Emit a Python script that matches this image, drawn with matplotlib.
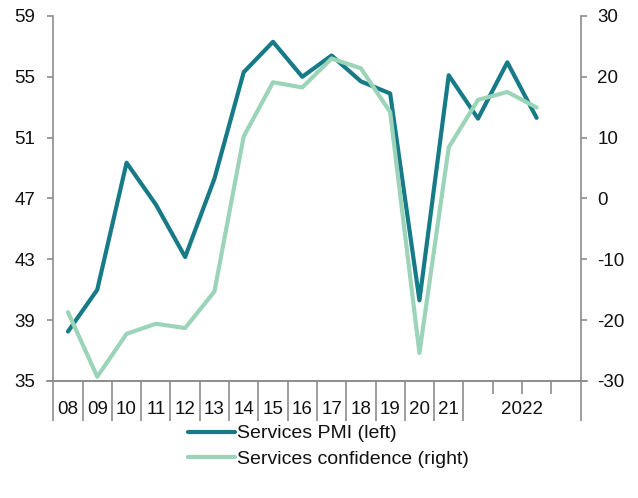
import matplotlib
matplotlib.use("Agg")
import matplotlib.pyplot as plt
from matplotlib.lines import Line2D

plt.rcParams['font.family'] = ['Liberation Sans', 'DejaVu Sans']
plt.rcParams['axes.unicode_minus'] = False

# Data
year_labels = ["08", "09", "10", "11", "12", "13", "14", "15", "16", "17",
               "18", "19", "20", "21", "2022"]
pmi = [38.25, 41.0, 49.35, 46.6, 43.15, 48.3, 55.3, 57.3, 55.0, 56.4,
       54.7, 53.9, 40.3, 55.1, 52.25, 55.95, 52.3]
confidence = [-18.7, -29.3, -22.25, -20.6, -21.3, -15.3, 10.2, 19.1, 18.25,
              23.0, 21.4, 14.2, -25.4, 8.4, 16.2, 17.5, 14.95]
n_slots = 18
pmi_label = "Services PMI (left)"
conf_label = "Services confidence (right)"

dark = "#177B87"
light = "#9BD4B9"
spine_col = "#8C8C8C"

fig = plt.figure(figsize=(6.38, 4.98), dpi=100)
ax = fig.add_axes([0.0836, 0.235, 0.9099 - 0.0836, 0.968 - 0.235])
ax2 = ax.twinx()

x = [i + 0.5 for i in range(len(pmi))]
ax.plot(x, pmi, color=dark, lw=3.0, solid_capstyle='round', zorder=3)
ax2.plot(x, confidence, color=light, lw=3.0, solid_capstyle='round', zorder=3)

ax.set_xlim(0, n_slots)
ax.set_ylim(35, 59)
ax.set_yticks(range(35, 60, 4))
ax2.set_ylim(-30, 30)
ax2.set_yticks(range(-30, 31, 10))

for a in (ax, ax2):
    a.spines["top"].set_visible(False)
    for s in ("left", "right", "bottom"):
        a.spines[s].set_color(spine_col)
        a.spines[s].set_linewidth(1.2)
ax.spines["right"].set_visible(False)
ax2.spines["left"].set_visible(False)
ax2.spines["bottom"].set_visible(False)

ax.tick_params(axis='y', direction='out', length=4, width=1.2, color=spine_col,
               labelsize=13.5, labelcolor="#111111", pad=9)
ax2.tick_params(axis='y', direction='out', length=4, width=1.2, color=spine_col,
                labelsize=13.5, labelcolor="#111111", pad=8)

# x ticks: long separators for years, short for 2022 quarters
major = list(range(0, 15)) + [18]
minor = [15, 16, 17]
ax.set_xticks(major)
ax.set_xticks(minor, minor=True)
ax.set_xticklabels([])
ax.tick_params(axis='x', which='major', direction='out', length=29, width=1.2,
               color=spine_col)
ax.tick_params(axis='x', which='minor', direction='out', length=9, width=1.2,
               color=spine_col)

label_pos = [i + 0.5 for i in range(14)] + [16]
trans = ax.get_xaxis_transform()
for p, lab in zip(label_pos, year_labels):
    ax.text(p, -0.078, lab, transform=trans, ha='center', va='center',
            fontsize=13.5, color="#111111")

# x-axis line slightly extended beyond the spines
ax.plot([-0.012, 1.013], [0, 0], transform=ax.transAxes, color=spine_col,
        lw=1.2, clip_on=False, zorder=1)

handles = [Line2D([0], [0], color=dark, lw=3.0, solid_capstyle='round'),
           Line2D([0], [0], color=light, lw=3.0, solid_capstyle='round')]
fig.legend(handles, [pmi_label, conf_label], loc='center',
           bbox_to_anchor=(0.515, 0.104), frameon=False, fontsize=14,
           handlelength=2.4, handletextpad=0.15, labelspacing=0.4,
           labelcolor="#111111")

fig.savefig("out.png", dpi=100)
